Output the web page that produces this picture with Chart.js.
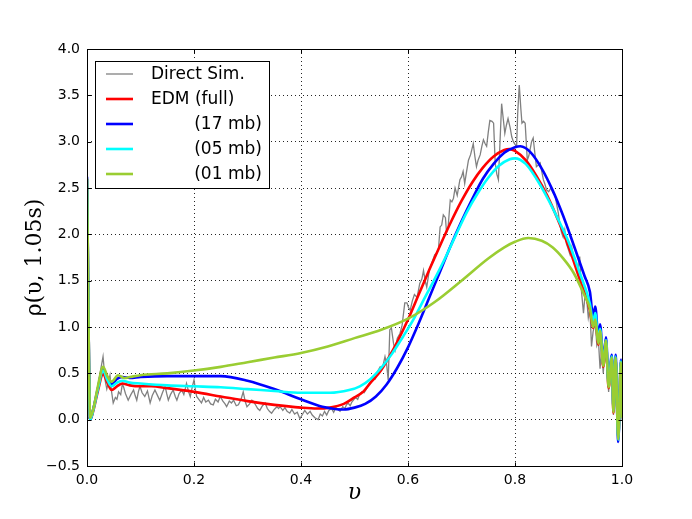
<!DOCTYPE html>
<html>
<head>
<meta charset="utf-8">
<script src="https://cdn.jsdelivr.net/npm/chart.js@4.4.1/dist/chart.umd.min.js"></script>
<style>
  html, body { margin: 0; padding: 0; background: #fff; }
  #wrap { width: 692px; height: 519px; }
</style>
</head>
<body>
<div id="wrap"><canvas id="myChart" width="692" height="519"></canvas></div>
<script>
// Direct simulation (noisy histogram)
const simV = [0.000,0.005,0.010,0.015,0.020,0.025,0.030,0.034,0.037,0.040,0.043,0.046,0.049,0.053,0.056,0.059,0.063,0.066,0.068,0.072,
  0.077,0.082,0.087,0.090,0.093,0.096,0.099,0.103,0.108,0.113,0.118,0.122,0.127,0.131,0.136,0.141,0.146,0.149,0.152,0.156,
  0.161,0.165,0.168,0.172,0.177,0.181,0.186,0.190,0.193,0.197,0.200,0.203,0.205,0.209,0.214,0.218,0.222,0.227,0.231,0.236,
  0.240,0.245,0.249,0.254,0.258,0.261,0.266,0.270,0.274,0.279,0.283,0.288,0.292,0.296,0.299,0.304,0.308,0.311,0.316,0.319,
  0.323,0.328,0.333,0.337,0.341,0.345,0.350,0.355,0.358,0.361,0.366,0.370,0.374,0.379,0.383,0.388,0.393,0.398,0.402,0.407,
  0.412,0.417,0.421,0.426,0.432,0.436,0.440,0.444,0.448,0.452,0.457,0.461,0.465,0.469,0.473,0.478,0.482,0.485,0.488,0.492,
  0.495,0.498,0.502,0.506,0.510,0.514,0.518,0.523,0.527,0.531,0.535,0.539,0.543,0.548,0.552,0.557,0.560,0.563,0.566,0.569,
  0.573,0.576,0.580,0.585,0.589,0.594,0.598,0.601,0.604,0.608,0.612,0.617,0.622,0.626,0.629,0.632,0.635,0.640,0.645,0.650,
  0.654,0.657,0.660,0.663,0.666,0.670,0.672,0.675,0.679,0.682,0.685,0.688,0.692,0.697,0.700,0.703,0.706,0.709,0.713,0.717,
  0.722,0.725,0.728,0.731,0.735,0.738,0.741,0.744,0.747,0.750,0.753,0.757,0.760,0.763,0.766,0.769,0.772,0.775,0.778,0.781,
  0.784,0.787,0.791,0.794,0.797,0.800,0.803,0.805,0.808,0.811,0.813,0.816,0.819,0.821,0.823,0.826,0.828,0.831,0.834,0.837,
  0.840,0.844,0.847,0.850,0.853,0.856,0.859,0.863,0.867,0.871,0.875,0.878,0.881,0.884,0.887,0.890,0.893,0.896,0.899,0.903,
  0.906,0.910,0.914,0.918,0.921,0.924,0.928,0.931,0.934,0.937,0.940,0.943,0.946,0.950,0.953,0.956,0.959,0.962,0.965,0.968,
  0.971,0.975,0.978,0.981,0.984,0.987,0.990,0.993,0.996,0.998,1.000];
const simRho = [0.00,0.03,0.10,0.22,0.33,0.52,0.68,0.42,0.33,0.40,0.48,0.30,0.18,0.24,0.22,0.30,0.27,0.38,0.36,0.28,
  0.21,0.27,0.32,0.26,0.21,0.30,0.36,0.29,0.25,0.31,0.18,0.26,0.32,0.27,0.21,0.29,0.36,0.28,0.21,0.27,
  0.32,0.25,0.21,0.28,0.32,0.27,0.39,0.30,0.25,0.36,0.43,0.31,0.25,0.22,0.18,0.24,0.19,0.21,0.17,0.16,
  0.22,0.19,0.25,0.20,0.17,0.14,0.20,0.18,0.21,0.15,0.16,0.22,0.30,0.19,0.14,0.17,0.21,0.20,0.15,0.12,
  0.10,0.15,0.18,0.12,0.09,0.07,0.11,0.14,0.12,0.14,0.10,0.13,0.09,0.07,0.11,0.06,0.08,0.01,0.05,0.10,
  0.06,0.09,0.05,0.02,0.00,0.06,0.04,0.09,0.05,0.10,0.12,0.08,0.13,0.11,0.09,0.14,0.12,0.16,0.18,0.15,
  0.19,0.21,0.24,0.22,0.28,0.30,0.29,0.34,0.38,0.40,0.45,0.44,0.52,0.57,0.55,0.68,0.60,0.43,0.97,0.99,
  0.82,0.75,0.88,0.93,1.02,1.26,1.26,1.21,1.18,1.28,1.35,1.32,1.47,1.52,1.61,1.50,1.43,1.62,1.70,1.78,
  1.80,1.84,2.08,2.10,2.21,2.18,2.02,2.08,2.37,2.35,2.39,2.50,2.42,2.59,2.62,2.68,2.55,2.66,2.80,2.86,
  2.98,2.84,2.73,2.80,2.86,2.95,3.02,2.98,2.95,3.10,3.23,3.22,3.20,2.77,2.65,2.59,3.00,3.41,3.25,3.09,
  3.18,3.25,3.15,3.05,3.00,2.97,2.95,3.30,3.61,3.35,3.20,3.22,3.20,3.00,2.80,2.85,2.91,3.00,3.04,2.88,
  2.73,2.75,2.77,2.68,2.59,2.54,2.48,2.46,2.50,2.45,2.42,2.32,2.23,2.10,2.02,1.97,2.05,1.90,1.85,1.78,
  1.86,1.72,1.70,1.62,1.76,1.40,1.15,1.35,1.30,1.10,1.20,0.79,0.95,1.05,0.80,0.85,0.55,0.75,0.50,0.78,
  0.62,0.30,0.55,0.62,0.05,0.60,0.30,-0.22,0.35,0.60,0.00];

// EDM (full)
const fullV   = [0, 0.006, 0.012, 0.02, 0.03, 0.038, 0.046, 0.056, 0.066, 0.08, 0.1, 0.12, 0.15, 0.2, 0.25, 0.3, 0.35, 0.4, 0.43, 0.454, 0.48,
  0.5, 0.516, 0.53, 0.548, 0.565, 0.58, 0.6, 0.62, 0.64, 0.66, 0.68, 0.7, 0.72, 0.74, 0.76, 0.78, 0.79, 0.8, 0.82, 0.84, 0.86, 0.88, 0.9, 0.92, 0.94,
  0.946, 0.950, 0.956, 0.959, 0.965, 0.970, 0.975, 0.981, 0.984, 0.988, 0.993, 0.998, 1.0];
const fullRho = [2.6, 0.0, 0.1, 0.3, 0.49, 0.40, 0.32, 0.36, 0.39, 0.37, 0.36, 0.36, 0.34, 0.30, 0.25, 0.20, 0.16, 0.13, 0.12, 0.13, 0.17,
  0.24, 0.30, 0.40, 0.52, 0.68, 0.84, 1.08, 1.35, 1.62, 1.88, 2.13, 2.36, 2.56, 2.72, 2.84, 2.91, 2.92, 2.90, 2.80, 2.63, 2.42, 2.16, 1.87, 1.53, 1.18,
  0.99, 1.10, 0.81, 0.95, 0.57, 0.84, 0.34, 0.67, 0.07, 0.67, -0.20, 0.62, 0.05];

// EDM (17 mb)
const mb17V   = [0, 0.006, 0.012, 0.02, 0.03, 0.038, 0.046, 0.056, 0.066, 0.08, 0.1, 0.15, 0.2, 0.25, 0.3, 0.35, 0.4, 0.44, 0.48, 0.5,
  0.52, 0.54, 0.56, 0.58, 0.6, 0.62, 0.64, 0.66, 0.68, 0.7, 0.72, 0.74, 0.76, 0.78, 0.8, 0.81, 0.83, 0.85, 0.87, 0.89, 0.91, 0.93, 0.94,
  0.946, 0.950, 0.956, 0.959, 0.965, 0.970, 0.975, 0.981, 0.984, 0.988, 0.993, 0.998, 1.0];
const mb17Rho = [2.62, 0.0, 0.12, 0.33, 0.55, 0.45, 0.38, 0.44, 0.46, 0.45, 0.46, 0.47, 0.47, 0.47, 0.42, 0.33, 0.22, 0.14, 0.11, 0.13,
  0.17, 0.25, 0.38, 0.56, 0.78, 1.04, 1.32, 1.60, 1.88, 2.14, 2.38, 2.60, 2.76, 2.88, 2.94, 2.95, 2.88, 2.71, 2.48, 2.20, 1.88, 1.55, 1.38,
  1.12, 1.22, 0.88, 1.03, 0.64, 0.89, 0.40, 0.70, 0.12, 0.70, -0.24, 0.65, 0.10];

// EDM (05 mb)
const mb05V   = [0, 0.006, 0.012, 0.02, 0.03, 0.038, 0.046, 0.056, 0.066, 0.08, 0.1, 0.15, 0.2, 0.25, 0.3, 0.35, 0.4, 0.454, 0.49,
  0.51, 0.53, 0.55, 0.57, 0.59, 0.61, 0.63, 0.65, 0.67, 0.69, 0.71, 0.73, 0.75, 0.77, 0.79, 0.8, 0.82, 0.84, 0.86, 0.88, 0.9, 0.92, 0.94,
  0.946, 0.950, 0.956, 0.959, 0.965, 0.970, 0.975, 0.981, 0.984, 0.988, 0.993, 0.998, 1.0];
const mb05Rho = [2.6, 0.0, 0.11, 0.32, 0.53, 0.43, 0.36, 0.40, 0.42, 0.40, 0.39, 0.37, 0.36, 0.35, 0.33, 0.31, 0.29, 0.29, 0.32,
  0.36, 0.44, 0.56, 0.71, 0.89, 1.08, 1.30, 1.52, 1.75, 2.00, 2.24, 2.44, 2.61, 2.74, 2.81, 2.82, 2.76, 2.60, 2.40, 2.17, 1.92, 1.60, 1.25,
  1.05, 1.15, 0.84, 0.98, 0.60, 0.86, 0.37, 0.68, 0.10, 0.68, -0.22, 0.63, 0.08];

// EDM (01 mb)
const mb01V   = [0, 0.006, 0.012, 0.02, 0.03, 0.038, 0.046, 0.058, 0.07, 0.08, 0.1, 0.15, 0.2, 0.25, 0.3, 0.35, 0.4, 0.45, 0.5, 0.55,
  0.6, 0.65, 0.7, 0.75, 0.78, 0.8, 0.825, 0.85, 0.87, 0.89, 0.91, 0.93, 0.94,
  0.946, 0.950, 0.956, 0.959, 0.965, 0.970, 0.975, 0.981, 0.984, 0.988, 0.993, 0.998, 1.0];
const mb01Rho = [2.6, 0.02, 0.12, 0.35, 0.57, 0.47, 0.41, 0.48, 0.45, 0.46, 0.48, 0.50, 0.53, 0.57, 0.62, 0.67, 0.72, 0.79, 0.88, 0.97,
  1.09, 1.27, 1.50, 1.74, 1.86, 1.92, 1.96, 1.93, 1.86, 1.74, 1.58, 1.34, 1.20,
  1.00, 1.08, 0.82, 0.96, 0.58, 0.85, 0.35, 0.67, 0.08, 0.67, -0.21, 0.62, 0.02];

const labels = ['Direct Sim.', 'EDM (full)', '        (17 mb)', '        (05 mb)', '        (01 mb)'];
const colors = ['#808080', '#ff0000', '#0000ff', '#00ffff', '#9acd32'];

const pts = (v, r) => v.map((x, i) => ({ x: x, y: r[i] }));

// matplotlib-like frame with inward ticks on all four sides
const framePlugin = {
  id: 'frame',
  afterDatasetsDraw(chart) {
    const { ctx, chartArea: a, scales: { x, y } } = chart;
    const L = Math.round(a.left) + 0.5, R = Math.round(a.right) + 0.5;
    const T = Math.round(a.top) + 0.5, B = Math.round(a.bottom) + 0.5;
    ctx.save();
    ctx.strokeStyle = '#000';
    ctx.lineWidth = 1;
    ctx.beginPath();
    x.ticks.forEach(t => {
      const px = Math.round(x.getPixelForValue(t.value)) + 0.5;
      ctx.moveTo(px, B); ctx.lineTo(px, B - 4);
      ctx.moveTo(px, T); ctx.lineTo(px, T + 4);
    });
    y.ticks.forEach(t => {
      const py = Math.round(y.getPixelForValue(t.value)) + 0.5;
      ctx.moveTo(L, py); ctx.lineTo(L + 4, py);
      ctx.moveTo(R, py); ctx.lineTo(R - 4, py);
    });
    ctx.stroke();
    ctx.strokeRect(L, T, R - L, B - T);
    ctx.restore();
  }
};

// boxed legend in the upper left corner
const boxLegend = {
  id: 'boxLegend',
  afterDraw(chart, args, opts) {
    const { ctx } = chart;
    ctx.save();
    ctx.fillStyle = '#fff';
    ctx.fillRect(opts.left, opts.top, opts.width, opts.height);
    ctx.strokeStyle = '#000';
    ctx.lineWidth = 1;
    ctx.strokeRect(opts.left + 0.5, opts.top + 0.5, opts.width, opts.height);
    ctx.font = '17px "DejaVu Sans"';
    ctx.textBaseline = 'middle';
    chart.data.datasets.forEach((ds, i) => {
      const yy = opts.top + opts.firstRow + i * opts.rowGap;
      ctx.strokeStyle = ds.borderColor;
      ctx.lineWidth = ds.borderWidth;
      ctx.beginPath();
      ctx.moveTo(opts.left + 11, yy);
      ctx.lineTo(opts.left + 38, yy);
      ctx.stroke();
      ctx.fillStyle = '#000';
      ctx.fillText(ds.label, opts.left + 56, yy + 1);
    });
    ctx.restore();
  }
};

const series = [[simV, simRho], [fullV, fullRho], [mb17V, mb17Rho], [mb05V, mb05Rho], [mb01V, mb01Rho]];

const ctx = document.getElementById('myChart').getContext('2d');
const chart = new Chart(ctx, {
  type: 'line',
  data: {
    datasets: series.map((s, i) => ({
      label: labels[i],
      data: pts(s[0], s[1]),
      borderColor: colors[i],
      backgroundColor: colors[i],
      borderWidth: i === 0 ? 1.3 : 2.6,
      pointRadius: 0,
      tension: i === 0 ? 0 : 0.4,
      cubicInterpolationMode: i === 0 ? 'default' : 'monotone',
      order: 5 - i,
    })),
  },
  options: {
    responsive: false,
    animation: false,
    layout: { padding: { top: 49, right: 70, left: 0, bottom: 0 } },
    plugins: {
      legend: { display: false },
      tooltip: { enabled: false },
      boxLegend: { left: 95, top: 61, width: 174, height: 127, firstRow: 13, rowGap: 25 },
    },
    scales: {
      x: {
        type: 'linear',
        min: 0,
        max: 1,
        afterFit: (s) => { s.height = 53; },
        ticks: {
          stepSize: 0.2,
          color: '#000',
          padding: 6,
          maxRotation: 0,
          font: { family: 'DejaVu Sans', size: 14 },
          callback: (v) => v.toFixed(1),
        },
        grid: { color: 'rgba(0,0,0,0.85)', lineWidth: 1, drawTicks: false },
        border: { display: false, dash: [1, 3] },
        title: {
          display: true,
          text: 'υ',
          color: '#000',
          padding: { top: 0, bottom: 13 },
          font: { family: 'DejaVu Serif', size: 22, style: 'italic' },
        },
      },
      y: {
        type: 'linear',
        min: -0.5,
        max: 4.0,
        afterFit: (s) => { s.width = 87; },
        ticks: {
          stepSize: 0.5,
          color: '#000',
          padding: 7,
          font: { family: 'DejaVu Sans', size: 14 },
          callback: (v) => (v < 0 ? '\u2212' + Math.abs(v).toFixed(1) : v.toFixed(1)),
        },
        grid: { color: 'rgba(0,0,0,0.85)', lineWidth: 1, drawTicks: false },
        border: { display: false, dash: [1, 3] },
        title: {
          display: true,
          text: 'ρ(υ, 1.05s)',
          color: '#000',
          padding: { top: 22, bottom: 0 },
          font: { family: 'DejaVu Serif', size: 22 },
        },
      },
    },
  },
  plugins: [framePlugin, boxLegend],
});
</script>
</body>
</html>
